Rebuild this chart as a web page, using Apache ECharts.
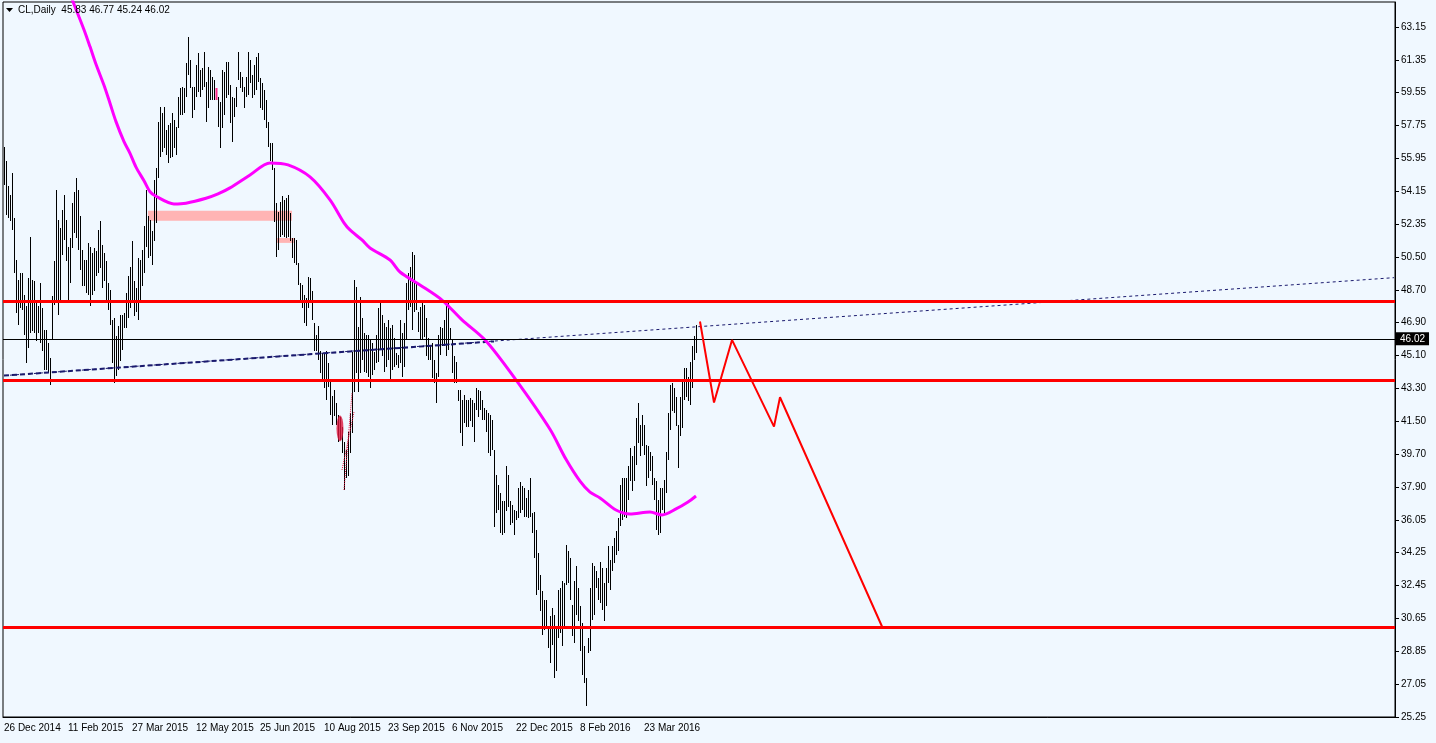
<!DOCTYPE html>
<html><head><meta charset="utf-8">
<script src="https://cdn.jsdelivr.net/npm/echarts@6/dist/echarts.min.js"></script>
<style>html,body{margin:0;padding:0;background:#F0F8FF;}#c{width:1436px;height:743px;}</style>
</head><body><div id="c"></div>
<script>
// ---------- DATA ----------
const symbolTitle = 'CL,Daily';
const lastBarOHLC = [45.83, 46.77, 45.24, 46.02];
const dateLabels = ['26 Dec 2014','11 Feb 2015','27 Mar 2015','12 May 2015','25 Jun 2015','10 Aug 2015','23 Sep 2015','6 Nov 2015','22 Dec 2015','8 Feb 2016','23 Mar 2016'];
const yTickLabels = ['25.25','27.05','28.85','30.65','32.45','34.25','36.05','37.90','39.70','41.50','43.30','45.10','46.90','48.70','50.50','52.35','54.15','55.95','57.75','59.55','61.35','63.15'];
const barHigh = [
56.58,55.76,54.39,53.93,55.12,52.65,50.36,49.26,49.63,49.63,
48.44,47.80,49.36,51.64,49.26,49.17,48.17,47.80,49.08,47.71,
46.52,46.52,45.79,44.96,48.35,50.27,54.20,52.56,52.10,53.11,
53.93,52.56,51.09,51.55,53.47,54.11,54.85,54.20,52.74,50.91,
50.36,50.36,51.28,51.09,50.73,51.00,50.82,52.01,52.47,51.18,
50.73,50.27,49.08,48.72,47.07,47.16,46.15,46.70,47.34,47.34,
47.43,48.53,49.45,49.99,51.37,49.17,48.81,50.45,50.36,50.91,
52.19,54.20,52.74,52.56,51.92,54.75,55.39,57.95,58.77,58.41,
58.77,57.49,57.77,57.86,58.41,58.04,57.68,59.32,59.78,59.87,
59.78,61.15,62.62,61.34,59.87,59.87,61.06,61.70,60.79,60.88,
61.79,60.15,60.97,60.79,60.42,60.24,59.78,59.32,59.05,60.79,
60.70,61.24,61.24,59.96,59.32,59.23,59.87,61.79,60.70,60.42,
59.87,60.42,61.79,61.34,60.51,61.06,61.52,61.70,60.33,60.06,
59.69,59.14,57.95,56.76,56.76,55.39,53.47,53.01,53.56,53.84,
53.65,53.74,53.93,52.92,51.55,51.55,51.46,50.18,49.08,48.99,
48.44,48.26,49.44,49.35,48.62,46.88,46.24,46.70,45.33,45.24,
45.24,45.33,44.69,43.68,42.86,43.22,42.48,41.84,41.75,41.20,
40.38,39.92,40.93,41.93,45.32,49.25,48.89,46.69,48.34,47.15,
46.33,46.24,46.24,45.96,45.78,45.32,46.24,47.70,47.97,47.33,
46.88,46.69,47.06,46.60,46.79,46.05,45.23,45.14,47.06,46.33,
46.88,49.07,49.62,49.99,50.81,50.63,49.07,47.52,47.79,47.97,
47.88,47.15,46.05,45.60,45.78,44.86,44.13,46.24,46.69,46.60,
47.06,48.07,47.97,46.60,45.96,45.05,44.77,43.22,43.22,42.67,
42.94,42.67,42.67,42.76,42.67,42.49,43.31,43.22,43.13,42.67,
42.21,42.12,41.94,41.84,41.57,39.92,38.55,38.00,37.54,37.09,
37.09,39.01,38.55,37.09,36.90,36.63,36.54,37.82,38.18,37.91,
37.82,37.27,37.73,38.37,36.45,36.50,35.53,34.25,33.06,32.15,
31.69,31.69,30.14,30.77,31.23,30.87,30.14,32.24,32.33,32.70,
32.61,34.71,34.34,33.98,31.42,32.70,33.52,32.33,31.32,30.41,
29.13,27.39,29.59,32.33,33.70,33.52,33.25,32.88,33.79,33.43,
32.61,33.43,34.62,33.89,34.62,35.08,35.44,36.17,38.00,38.37,
38.37,38.37,39.01,40.02,39.56,40.11,41.66,42.49,41.30,41.85,
41.30,40.20,40.11,39.83,39.56,38.37,38.19,37.18,37.82,37.82,
38.28,39.83,41.94,43.49,43.59,43.31,42.85,41.30,42.85,43.77,
44.41,44.41,43.95,44.77,45.60,46.15,46.77];
const barLow = [
54.48,52.83,52.65,52.47,52.01,49.63,47.43,46.79,47.71,47.62,
46.24,44.69,45.51,46.34,46.43,46.34,45.88,46.34,45.79,45.33,
44.32,44.32,44.14,43.50,45.97,47.89,47.98,47.34,47.98,50.64,
51.46,50.27,47.98,49.08,51.00,51.83,51.55,50.91,49.81,48.90,
48.90,48.53,48.44,47.80,48.44,48.62,49.45,49.63,49.90,48.81,
49.17,48.17,47.62,46.79,44.69,43.59,43.96,44.32,44.78,45.42,
46.61,46.61,47.16,47.71,48.07,47.25,47.52,47.07,48.07,48.90,
49.63,51.09,50.45,50.55,50.09,51.37,52.37,54.86,56.03,56.30,
56.49,56.12,55.66,55.94,56.03,56.49,56.12,57.59,58.32,58.32,
58.41,59.32,60.51,59.78,58.13,58.59,59.32,59.60,59.32,59.69,
59.87,57.95,58.68,59.14,59.14,59.14,59.14,57.68,56.49,57.59,
58.32,59.23,59.42,57.86,56.85,58.23,58.77,60.24,59.78,59.60,
58.68,59.32,59.42,60.06,59.23,59.42,59.69,60.15,58.68,58.59,
58.04,57.59,56.58,55.76,55.30,52.46,50.54,50.91,51.64,51.73,
51.64,51.55,51.64,51.37,50.45,50.18,50.09,48.99,48.17,47.71,
46.88,46.70,47.71,48.07,47.07,45.33,45.33,44.87,44.14,43.68,
43.31,42.67,43.40,41.85,41.30,41.76,41.29,40.38,40.47,39.74,
37.73,38.37,38.46,39.74,40.84,43.12,44.13,43.12,44.13,44.86,
44.22,44.13,43.95,43.31,44.04,44.31,44.68,44.77,45.41,45.05,
44.22,44.50,44.86,43.67,44.31,44.50,44.59,44.41,44.68,43.95,
44.50,45.96,47.61,47.79,46.51,47.52,47.61,46.42,45.96,45.96,
46.14,45.05,44.86,44.86,43.86,43.58,42.48,43.95,45.14,45.60,
45.60,45.05,45.41,45.96,44.13,43.58,43.58,42.58,40.84,40.11,
41.39,41.20,41.20,41.48,41.20,40.38,42.12,41.75,42.12,41.57,
41.57,40.93,39.74,39.56,39.92,35.71,36.45,36.63,35.35,35.26,
35.35,36.54,36.81,35.81,35.90,35.26,36.08,36.17,36.45,36.63,
36.26,36.26,36.17,36.26,35.35,34.00,31.97,32.24,31.05,29.77,
30.04,30.14,29.04,28.21,29.22,27.39,27.76,29.59,29.86,29.13,
30.23,32.51,32.61,31.69,29.68,29.31,30.87,30.50,28.86,27.57,
27.11,25.83,28.76,28.86,30.59,30.87,32.33,31.69,31.51,31.14,
30.50,31.32,32.61,32.24,33.25,33.70,34.16,34.34,35.72,36.08,
36.26,36.17,37.18,38.19,37.64,38.19,39.10,40.29,39.56,40.11,
39.65,37.91,38.37,38.74,38.00,37.18,35.53,35.26,35.35,36.63,
36.45,37.55,39.38,41.02,42.03,41.94,41.21,38.92,40.66,41.12,
42.67,42.85,42.58,42.40,43.31,44.86,45.24];
const highlightBars = [106];
const maIndex = [30,35,40,43,46,50,53,56,60,63,66,70,73,76,85,91,101,107,113,123,133,142,153,163,170,173,179,183,193,198,208,219,229,241,256,273,281,288,293,298,306,313,323,329,336,342,346];
const maValue = [65.8,64.4,63.0,62.07,61.1,59.95,58.96,57.95,56.85,56.21,55.45,54.7,54.10,53.85,53.43,53.47,53.74,53.98,54.31,55.02,55.68,55.57,54.91,53.65,52.39,52.0,51.45,51.01,50.35,49.69,48.98,48.15,47.06,45.9,43.76,41.05,39.4,38.2,37.6,37.28,36.62,36.40,36.51,36.35,36.68,37.06,37.39];
const levelPrices = [48.1, 43.75, 30.2];
const lastPrice = 46.02;
const trendIndex = [0, 695];
const trendValue = [44.0, 49.38];
const trendBoldIndex = [0, 245];
const trendBoldValue = [44.0, 45.88];
const zigIndex = [348, 355, 364, 385, 388, 439];
const zigValue = [46.97, 42.52, 45.96, 41.20, 42.81, 30.22];
const zoneBig = {from: 72, to: 144, top: 53.05, bottom: 52.50};
const zoneSmall = {from: 136, to: 145, top: 51.56, bottom: 51.29};
const augLineA = {i: [170, 174], v: [37.72, 43.05]};
const augLineB = {i: [169, 175], v: [38.82, 42.0]};
const augBlob = {i: 168, v: 41.1};

// ---------- CHART ----------
const SLOTS = 696;
const cats = Array.from({length: SLOTS}, (_, i) => String(i));
const yMin = 25.25, yStep = (63.15 - 25.25) / 21;
const barData = barHigh.map((h, i) => [i, h, barLow[i]]);
const FONT = 'Liberation Sans';

const chart = echarts.init(document.getElementById('c'), null, {renderer: 'canvas'});
chart.setOption({
  animation: false,
  backgroundColor: '#F0F8FF',
  grid: {left: 3, right: 41, top: 2, bottom: 26, show: true, borderColor: '#000', borderWidth: 1, backgroundColor: 'transparent'},
  graphic: [
    {type: 'polygon', shape: {points: [[6, 8], [13, 8], [9.5, 12]]}, style: {fill: '#000'}, z: 100},
    {type: 'text', left: 18, top: 5, style: {text: symbolTitle + '  ' + lastBarOHLC.map(v => v.toFixed(2)).join(' '), font: '10px "' + FONT + '"', fill: '#000'}, z: 100}
  ],
  xAxis: {
    type: 'category', data: cats, boundaryGap: true,
    axisLine: {lineStyle: {color: '#000', width: 1}},
    axisTick: {alignWithLabel: true, interval: (i) => i % 32 === 0 && i / 32 < dateLabels.length, length: 4, lineStyle: {color: '#000'}},
    axisLabel: {interval: (i) => i % 32 === 0 && i / 32 < dateLabels.length, formatter: (v, i) => dateLabels[Math.round(Number(v) / 32)] || '', align: 'left', color: '#000', fontSize: 10, fontFamily: FONT, margin: 6},
    splitLine: {show: false}
  },
  yAxis: {
    type: 'value', position: 'right', min: yMin, max: 64.52, interval: yStep,
    axisLine: {show: true, lineStyle: {color: '#000', width: 1}},
    axisTick: {show: true, inside: false, length: 4, lineStyle: {color: '#000'}},
    axisLabel: {color: '#000', fontSize: 10, fontFamily: FONT, margin: 6, showMaxLabel: false,
      formatter: (v) => { const k = Math.round((v - yMin) / yStep); return (Math.abs(v - (yMin + k * yStep)) < 0.01 && yTickLabels[k]) ? yTickLabels[k] : ''; }},
    splitLine: {show: false}
  },
  series: [
    {type: 'line', data: [], z: 1, silent: true,
      markArea: {silent: true, itemStyle: {color: '#FFB4B4'}, data: [
        [{xAxis: String(zoneBig.from), yAxis: zoneBig.top}, {xAxis: String(zoneBig.to), yAxis: zoneBig.bottom}],
        [{xAxis: String(zoneSmall.from), yAxis: zoneSmall.top}, {xAxis: String(zoneSmall.to), yAxis: zoneSmall.bottom}]
      ]}},
    {type: 'custom', z: 2, data: barData, encode: {x: 0, y: [1, 2]},
      renderItem: (params, api) => {
        const i = api.value(0);
        const p1 = api.coord([i, api.value(1)]);
        const p2 = api.coord([i, api.value(2)]);
        const x = Math.round(p1[0]) + 0.5;
        const hl = highlightBars.indexOf(i) >= 0;
        return {type: 'line', shape: {x1: x, y1: Math.round(p1[1]), x2: x, y2: Math.round(p2[1])},
          style: {stroke: hl ? '#FF2A8A' : '#000', lineWidth: hl ? 2 : 1}};
      }},
    {type: 'line', z: 3, data: trendBoldIndex.map((x, k) => [x, trendBoldValue[k]]), showSymbol: false,
      lineStyle: {color: '#1A1A6E', width: 2, type: [5, 3]}},
    {type: 'line', z: 3, data: trendIndex.map((x, k) => [x, trendValue[k]]), showSymbol: false,
      lineStyle: {color: '#1A1A6E', width: 1, type: [3, 3]}},
    {type: 'line', z: 4, data: maIndex.map((x, k) => [x, maValue[k]]), showSymbol: false, smooth: 0.3,
      lineStyle: {color: '#FF00FF', width: 3}},
    {type: 'line', z: 5, data: zigIndex.map((x, k) => [x, zigValue[k]]), showSymbol: false,
      lineStyle: {color: '#FF0000', width: 2}},
    {type: 'line', z: 5, data: augLineA.i.map((x, k) => [x, augLineA.v[k]]), showSymbol: false,
      lineStyle: {color: '#DC143C', width: 1, type: 'dotted'}},
    {type: 'line', z: 5, data: augLineB.i.map((x, k) => [x, augLineB.v[k]]), showSymbol: false,
      lineStyle: {color: '#DC143C', width: 1, type: 'dotted'}},
    {type: 'scatter', z: 5, data: [[augBlob.i, augBlob.v]], symbol: 'circle', symbolSize: [7, 26], itemStyle: {color: '#DC143C'}},
    {type: 'line', data: [], z: 6, silent: true,
      markLine: {silent: true, symbol: 'none', animation: false, data: [
        ...levelPrices.map(p => ({yAxis: p, lineStyle: {color: '#FF0000', width: 3, type: 'solid'}, label: {show: false}})),
        {yAxis: lastPrice, lineStyle: {color: '#000', width: 1, type: 'solid'},
          label: {show: true, position: 'end', distance: 1, formatter: lastPrice.toFixed(2), backgroundColor: '#000', color: '#fff', fontSize: 10, fontFamily: FONT, padding: [2, 4, 1, 4]}}
      ]}}
  ]
});
</script></body></html>
